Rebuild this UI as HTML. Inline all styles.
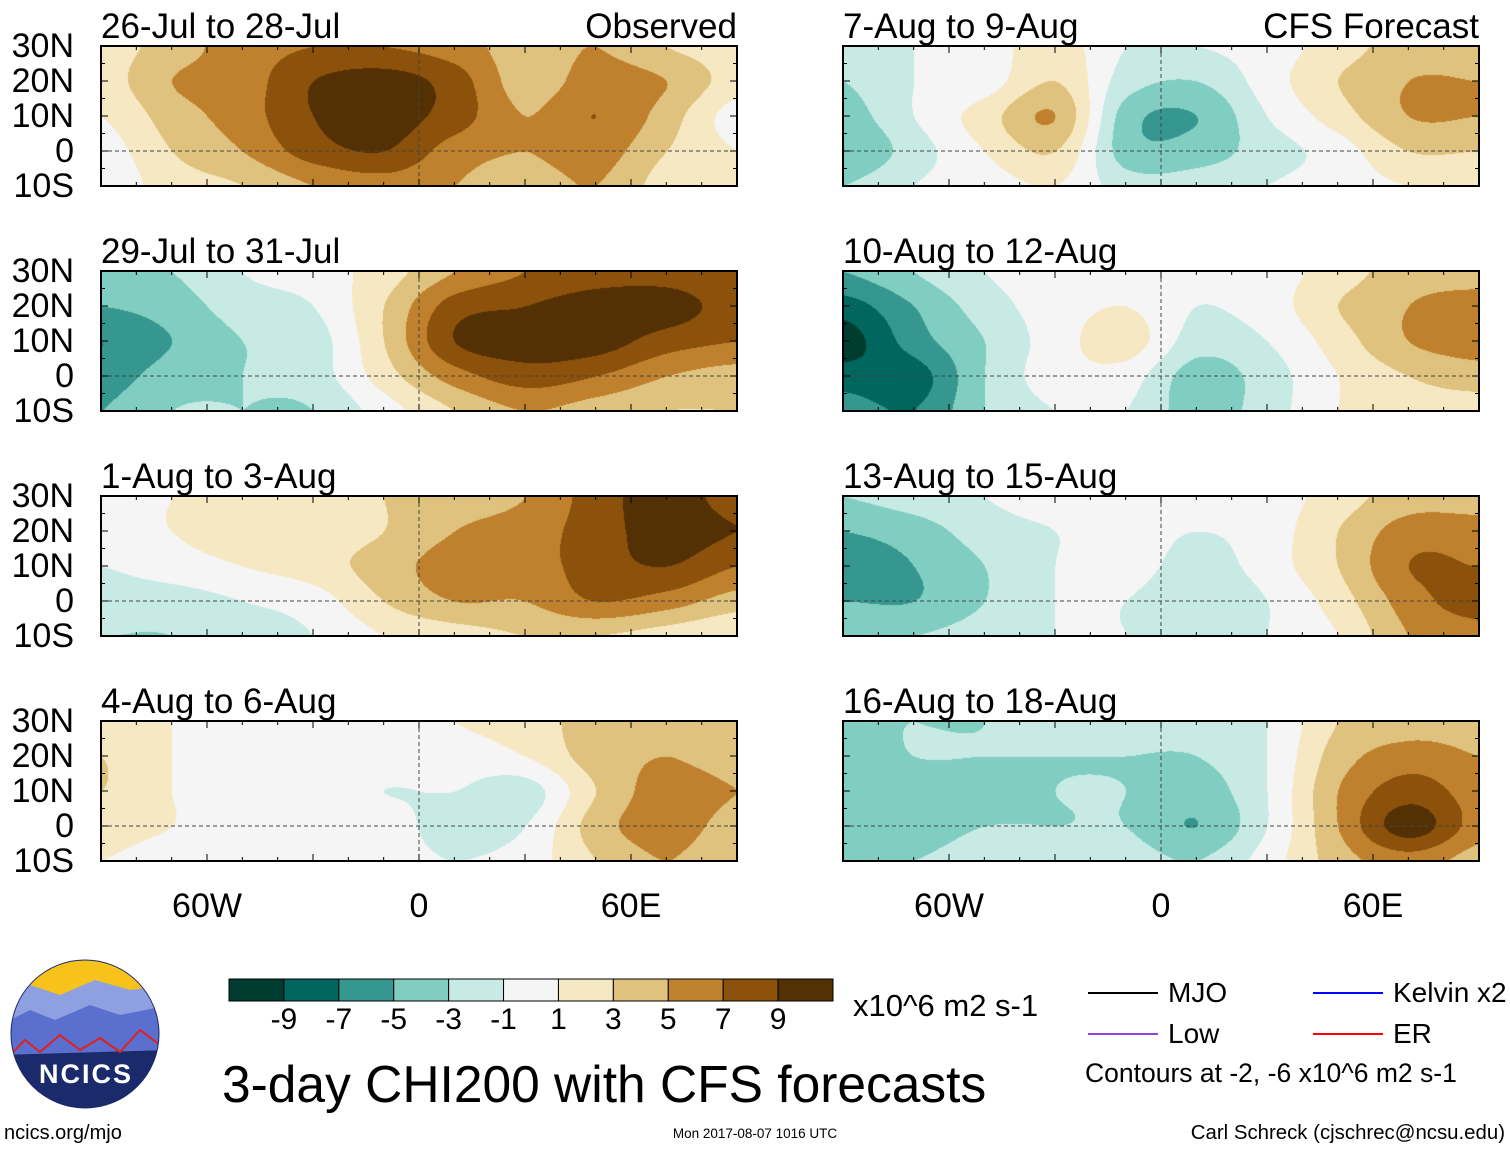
<!DOCTYPE html>
<html><head><meta charset="utf-8"><style>
body{margin:0;background:#fff;width:1510px;height:1149px;overflow:hidden;font-family:"Liberation Sans",sans-serif;}
#wrap{position:relative;width:1510px;height:1149px;}
.t{position:absolute;white-space:nowrap;color:#000;line-height:1;}
canvas,svg{position:absolute;left:0;top:0;}
</style></head><body><div id="wrap">
<canvas id="cv" width="1510" height="1149"></canvas>
<svg id="ov" width="1510" height="1149"></svg>
<div id="txt"></div>
</div>
<script>
// colour levels (BrBG), boundaries
const levels=[-9,-7,-5,-3,-1,1,3,5,7,9];
const colors=["#003c30","#01665e","#35978f","#80cdc1","#c7eae5","#f5f5f5","#f6e8c3","#dfc27d","#bf812d","#8c510a","#543005"];
const lons=[-90,-70,-50,-30,-10,10,30,50,70,90];
const lats=[30,20,10,0,-10];
const titles=["26-Jul to 28-Jul","29-Jul to 31-Jul","1-Aug to 3-Aug","4-Aug to 6-Aug","7-Aug to 9-Aug","10-Aug to 12-Aug","13-Aug to 15-Aug","16-Aug to 18-Aug"];
const p1=[[2,4,6,7,7,6,4,5,3,2],[2,5,6,9,10,8,4,6,5,2],[1,4,6,9,10,8,5,7,4,0],[0,3,5,8,9,6,5,6,3,1],[-0.5,2,3,5,6,5,4,5,2,1]];
const p2=[[-3,-3,-1,0,2,5,7,8,8,7],[-5,-4,-2,-1,3,8,9,10,10,8],[-7,-5,-3,-2,3,9,10,10,8,7],[-6,-4,-3,-2,2,6,8,7,5,4],[-5,-3,-3,-3,0,3,5,4,3,3]];
const p3=[[1,1,2,2,3,4,5,8,10,8],[0,1,2,2,3,5,6,8,10,9],[-1,0,1,2,4,6,6,8,9,7],[-2,-2,-1,0,3,5,5,7,6,4],[-3,-3,-2,-1,1,2,3,3,2,1]];
const p4=[[2,1,0,0,0,1,2,4,5,4],[3,1,0,0,0,0,1,4,5,4],[3,1,0,0,-1,-1,-2,3,6,5],[2,1,0,0,0,-2,-1,4,6,4],[1,0,0,0,0,-1,0,3,5,3]];
const p5=[[-2,-1,0,2,-1,-1,0,2,4,4],[-3,-1,0,3,-2,-3,0,3,5,5],[-4,-1,2,5,-4,-5,-1,2,5,5],[-5,-2,1,3,-4,-4,-2,0,3,3],[-3,-1,0,1,-2,-2,-1,0,1,1]];
const p6=[[-5,-3,-1,0,0,-1,0,2,4,4],[-8,-5,-2,0,1,-1,0,3,5,6],[-10,-6,-3,0,2,-2,-1,2,5,6],[-8,-8,-3,0,0,-4,-2,1,3,4],[-6,-7,-3,-1,-1,-4,-2,1,2,2]];
const p7=[[-3,-2,-1,0,0,0,0,2,4,4],[-5,-4,-2,-1,0,-1,0,3,6,6],[-6,-5,-3,-1,0,-2,0,3,7,7],[-5,-5,-3,-1,-1,-3,-1,2,6,8],[-3,-3,-2,-1,-1,-2,-1,1,5,6]];
const p8=[[-3,-3,-3,-2,-2,-2,-1,3,4,4],[-4,-3,-3,-3,-3,-3,-1,4,6,5],[-4,-4,-4,-3,-3,-4,-1,5,8,6],[-4,-4,-3,-3,-3,-5,-1,5,10,6],[-3,-3,-2,-2,-2,-3,0,4,6,4]];
const panels=[p1,p2,p3,p4,p5,p6,p7,p8];
const xTicks=["60W","0","60E"], xTickLons=[-60,0,60];
const yTicks=["30N","20N","10N","0","10S"];
const cbLabels=["-9","-7","-5","-3","-1","1","3","5","7","9"];

const PW=636,PH=140,colX=[101,843],rowY=[46,271,496,721];
const xOf=(c,lon)=>colX[c]+(lon+90)/180*PW;
const yOf=(r,lat)=>rowY[r]+(30-lat)/40*PH;
function hex(h){return [parseInt(h.substr(1,2),16),parseInt(h.substr(3,2),16),parseInt(h.substr(5,2),16)];}
const rgb=colors.map(hex);
function idx(v){let i=0;while(i<levels.length&&v>=levels[i])i++;return i;}
const cv=document.getElementById('cv'),ctx=cv.getContext('2d');
const ns="http://www.w3.org/2000/svg";
const ov=document.getElementById('ov');
function sv(tag,at,parent){const e=document.createElementNS(ns,tag);for(const k in at)e.setAttribute(k,at[k]);(parent||ov).appendChild(e);return e;}
function cubic(p0,p1,p2,p3,t){return p1+0.5*t*(p2-p0+t*(2*p0-5*p1+4*p2-p3+t*(3*(p1-p2)+p3-p0)));}
function sample(g,fx,fy){
  const gx=Math.max(0,Math.min(lons.length-1.0001,fx)),gy=Math.max(0,Math.min(lats.length-1.0001,fy));
  const ix=Math.floor(gx),iy=Math.floor(gy),tx=gx-ix,ty=gy-iy;
  const G=(r,c)=>g[Math.max(0,Math.min(lats.length-1,r))][Math.max(0,Math.min(lons.length-1,c))];
  const rows=[];for(let r=-1;r<=2;r++)rows.push(cubic(G(iy+r,ix-1),G(iy+r,ix),G(iy+r,ix+1),G(iy+r,ix+2),tx));
  return cubic(rows[0],rows[1],rows[2],rows[3],ty);
}
const txt=document.getElementById('txt');
function T(s,x,y,size,name,align,extra){const d=document.createElement('div');d.className='t';d.textContent=s;d.style.fontSize=size+'px';d.style.top=(y-size*0.5)+'px';
 if(align==='right'){d.style.right=(1510-x)+'px';}else if(align==='center'){d.style.left=x+'px';d.style.transform='translateX(-50%)';}else d.style.left=x+'px';
 if(extra)Object.assign(d.style,extra);
 
 
 txt.appendChild(d);return d;}

panels.forEach((g,p)=>{
  const c=p<4?0:1,r=p%4;
  const img=ctx.createImageData(PW,PH);
  for(let y=0;y<PH;y++)for(let x=0;x<PW;x++){
    const lon=-90+x/PW*180,lat=30-y/PH*40;
    const v=sample(g,(lon+90)/20,(30-lat)/10);
    const col=rgb[idx(v)];const o=(y*PW+x)*4;
    img.data[o]=col[0];img.data[o+1]=col[1];img.data[o+2]=col[2];img.data[o+3]=255;}
  ctx.putImageData(img,colX[c],rowY[r]);
  const gp=sv('g',{});
  
  
  const fr=sv('rect',{x:colX[c],y:rowY[r],width:PW,height:PH,fill:'none',stroke:'#000','stroke-width':2},gp);
  
  
  const eq=sv('line',{x1:colX[c],x2:colX[c]+PW,y1:yOf(r,0),y2:yOf(r,0),stroke:'#444','stroke-width':1,'stroke-dasharray':'4,3'},gp);
  
  
  const pm=sv('line',{x1:xOf(c,0),x2:xOf(c,0),y1:rowY[r],y2:rowY[r]+PH,stroke:'#444','stroke-width':1,'stroke-dasharray':'4,3'},gp);
  
  
  for(let lon=-90;lon<=90;lon+=10){const x=xOf(c,lon);const L=lon%30===0?7:4;
    sv('line',{x1:x,x2:x,y1:rowY[r],y2:rowY[r]+L,stroke:'#000'},gp);sv('line',{x1:x,x2:x,y1:rowY[r]+PH,y2:rowY[r]+PH-L,stroke:'#000'},gp);}
  for(let lat=-10;lat<=30;lat+=5){const y=yOf(r,lat);const L=lat%10===0?7:4;
    sv('line',{x1:colX[c],x2:colX[c]+L,y1:y,y2:y,stroke:'#000'},gp);sv('line',{x1:colX[c]+PW,x2:colX[c]+PW-L,y1:y,y2:y,stroke:'#000'},gp);}
  T(titles[p],colX[c],rowY[r]-20,35,'panel-title');
  if(c===0) lats.forEach((lt,i)=>T(yTicks[i],74,yOf(r,lt),34,'y-tick-label','right'));
});
T("Observed",737,26,35,'observed-label','right');
T("CFS Forecast",1479,26,35,'forecast-label','right');
[0,1].forEach(c=>xTickLons.forEach((lon,i)=>T(xTicks[i],xOf(c,lon),906,34,'x-tick-label','center')));

// colour bar
const cbx=229,cbw=604/11;
colors.forEach((col,i)=>{const rr=sv('rect',{x:cbx+i*cbw,y:979,width:cbw,height:22,fill:col,stroke:'#000','stroke-width':1});
 
 });
cbLabels.forEach((s,i)=>T(s,cbx+(i+1)*cbw,1020,30,'colorbar-label','center'));
T("x10^6 m2 s-1",853,1005,31,'colorbar-units');
T("3-day CHI200 with CFS forecasts",222,1085,51.5,'main-title');
// legend
[["MJO","#000",1088,993],["Low","#9040e0",1088,1034],["Kelvin x2","#0000ff",1313,993],["ER","#ff0000",1313,1034]].forEach(l=>{
 const ln=sv('line',{x1:l[2],x2:l[2]+70,y1:l[3],y2:l[3],stroke:l[1],'stroke-width':2});
 
 
 T(l[0],l[2]+80,l[3],28,'legend-entry');});
T("Contours at -2, -6 x10^6 m2 s-1",1085,1073,26.5,'contour-note');
T("ncics.org/mjo",4,1133,20,'source-url');
T("Mon 2017-08-07 1016 UTC",755,1134,13.5,'timestamp','center');
T("Carl Schreck (cjschrec@ncsu.edu)",1505,1133,20.4,'author-credit','right');
// logo
const lg=sv('g',{});


const defs=sv('defs',{},lg);const cp=sv('clipPath',{id:'lc'},defs);sv('circle',{cx:85,cy:1034,r:74},cp);
const lgg=sv('g',{'clip-path':'url(#lc)'},lg);
sv('rect',{x:0,y:955,width:170,height:160,fill:'#1b2a6b'},lgg);
sv('rect',{x:0,y:955,width:170,height:45,fill:'#f7c21a'},lgg);
sv('path',{d:'M0 1000 L30 985 L60 995 L95 980 L130 990 L170 985 L170 1030 L0 1035Z',fill:'#8fa0e0'},lgg);
sv('path',{d:'M0 1025 L30 1010 L55 1020 L90 1005 L120 1015 L170 1005 L170 1050 L0 1055Z',fill:'#5b6fcf'},lgg);
sv('path',{d:'M10 1055 L25 1040 L40 1052 L60 1035 L80 1050 L100 1038 L120 1052 L140 1030 L160 1045',fill:'none',stroke:'#e02020','stroke-width':2},lgg);
sv('circle',{cx:85,cy:1034,r:74,fill:'none',stroke:'#1b2a6b','stroke-width':1},lg);
T("NCICS",86,1074,27,'logo-text','center',{color:'#fff',fontWeight:'bold',letterSpacing:'2px'});
</script></body></html>
